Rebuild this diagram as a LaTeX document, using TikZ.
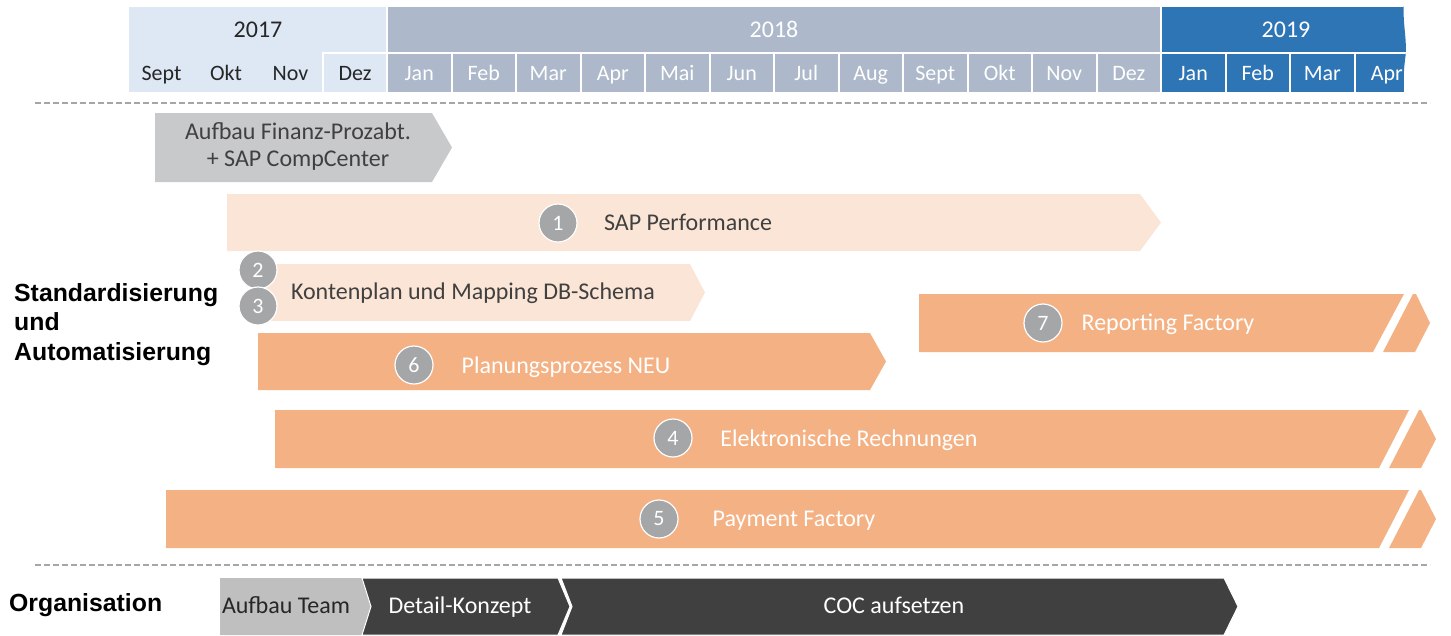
\documentclass[tikz,border=0pt]{standalone}
\usepackage{fontspec}
\setmainfont{Carlito}
\newfontfamily\labfont{Liberation Sans}
\definecolor{hdrA}{HTML}{DEE8F4}
\definecolor{hdrB}{HTML}{ADB9CA}
\definecolor{hdrC}{HTML}{2E75B6}
\definecolor{barGray}{HTML}{C8C9CB}
\definecolor{peach}{HTML}{FBE5D6}
\definecolor{orangeBar}{HTML}{F4B183}
\definecolor{circ}{HTML}{A5A6A8}
\definecolor{darkBar}{HTML}{404040}
\definecolor{teamGray}{HTML}{BFBFBF}
\definecolor{txtDark}{HTML}{262626}
\definecolor{dashGray}{HTML}{A6A6A6}
\begin{document}
\begin{tikzpicture}[x=1pt,y=-1pt,
  txt/.style={font=\fontsize{24}{28}\selectfont, inner sep=0pt, text height=15.5pt, text depth=0pt, anchor=center},
  mon/.style={font=\fontsize{22}{26}\selectfont, inner sep=0pt, text height=14pt, text depth=0pt, anchor=center},
  num/.style={circle, fill=circ, draw=white, line width=1.2pt, minimum size=38pt, inner sep=0pt, text=white, font=\fontsize{22}{26}\selectfont},
  lab/.style={font=\labfont\bfseries\fontsize{24.8}{29.5}\selectfont, inner sep=0pt, anchor=base west, text=black},
  cell/.style={draw=white, line width=2pt},
  sep/.style={draw=dashGray, line width=1.5pt, dash pattern=on 6pt off 3pt}
]
\useasboundingbox (0,0) rectangle (1451,635);

% ---------- header ----------
\fill[hdrA] (129,7) rectangle (387,92);
\path[cell, fill=hdrA] (323,53) rectangle (387,93);
\node[mon, font=\fontsize{24}{28}\selectfont, text=txtDark] (y17) at (258,30) {2017};
\node[mon, text=txtDark] (m0) at (161.5,73) {Sept};
\node[mon, text=txtDark] (m1) at (226,73) {Okt};
\node[mon, text=txtDark] (m2) at (290.5,73) {Nov};
\node[mon, text=txtDark] (m3) at (355,73) {Dez};

\path[cell, fill=hdrB] (387,6) rectangle (1161,53);
\node[mon, font=\fontsize{24}{28}\selectfont, text=white] (y18) at (774,30) {2018};
\foreach \k/\m in {0/Jan,1/Feb,2/Mar,3/Apr,4/Mai,5/Jun,6/Jul,7/Aug,8/Sept,9/Okt,10/Nov,11/Dez}{
  \path[cell, fill=hdrB] ({387+64.5*\k},53) rectangle ({387+64.5*(\k+1)},93);
  \node[mon, text=white] (n\k) at ({387+64.5*\k+32.25},73) {\m};
}
\begin{scope}
  \clip (1160,0) -- (1404,0) .. controls (1402,25) and (1408,40) .. (1405,60)
        .. controls (1403,75) and (1404,85) .. (1404,100) -- (1160,100) -- cycle;
  \path[cell, fill=hdrC] (1161,6) rectangle (1440,53);
  \foreach \k/\m in {0/Jan,1/Feb,2/Mar,3/Apr}{
    \path[cell, fill=hdrC] ({1161+64.5*\k},53) rectangle ({1161+64.5*(\k+1)},93);
    \node[mon, text=white] (p\k) at ({1161+64.5*\k+32.25},73) {\m};
  }
  \node[mon, font=\fontsize{24}{28}\selectfont, text=white] (y19) at (1286,30) {2019};
\end{scope}

% ---------- separators ----------
\coordinate (s1a) at (35,103);
\coordinate (s1b) at (1430,103);
\coordinate (s2a) at (35,565);
\coordinate (s2b) at (1430,565);
\draw[sep] (s1a) -- (s1b);
\draw[sep] (s2a) -- (s2b);

% ---------- left labels ----------
\node[lab] (l1) at (14,301) {Standardisierung};
\node[lab] (l2) at (14,330) {und};
\node[lab] (l3) at (14,360) {Automatisierung};
\node[lab] (l4) at (9,611) {Organisation};

% ---------- bars ----------
% Aufbau Finanz
\fill[barGray] (155,113) -- (432,113) -- (452,147.5) -- (432,182) -- (155,182) -- cycle;
\node[txt, text=darkBar] (fin1) at (298,132) {Aufbau Finanz-Prozabt.};
\node[txt, text=darkBar] (fin2) at (298,159) {+ SAP CompCenter};

% SAP Performance
\fill[peach] (227,194) -- (1140,194) -- (1161,222.5) -- (1140,251) -- (227,251) -- cycle;
\node[num] (c1) at (558,223) {1};
\node[txt, text=darkBar] (t1) at (688,223) {SAP Performance};

% Kontenplan
\fill[peach] (263,264) -- (690,264) -- (705,292.5) -- (690,321) -- (263,321) -- cycle;
\node[num] (c2) at (258,270) {2};
\node[num] (c3) at (258,306) {3};
\node[txt, text=darkBar] (t2) at (473,292) {Kontenplan und Mapping DB-Schema};

% Reporting Factory
\fill[orangeBar] (919,294) -- (1404,294) -- (1373,352) -- (919,352) -- cycle;
\fill[orangeBar] (1383,352) -- (1413,294) -- (1416,294) -- (1430,323) -- (1415,352) -- cycle;
\node[num] (c7) at (1043,323) {7};
\node[txt, text=white] (t7) at (1168,323) {Reporting Factory};

% Planungsprozess
\fill[orangeBar] (258,333) -- (870,333) -- (886,361.5) -- (870,390) -- (258,390) -- cycle;
\node[num] (c6) at (414,365) {6};
\node[txt, text=white] (t6) at (566,366) {Planungsprozess NEU};

% Elektronische Rechnungen
\fill[orangeBar] (275,410) -- (1409,410) -- (1379,468) -- (275,468) -- cycle;
\fill[orangeBar] (1389,468) -- (1419,410) -- (1421,410) -- (1436,439) -- (1421,468) -- cycle;
\node[num] (c4) at (673,438) {4};
\node[txt, text=white] (t4) at (849,439) {Elektronische Rechnungen};

% Payment Factory
\fill[orangeBar] (166,490) -- (1409,490) -- (1379,548) -- (166,548) -- cycle;
\fill[orangeBar] (1389,548) -- (1419,490) -- (1421,490) -- (1436,519) -- (1421,548) -- cycle;
\node[num] (c5) at (659,519) {5};
\node[txt, text=white] (t5) at (794,519) {Payment Factory};

% ---------- Organisation ----------
\fill[teamGray] (220,578) -- (362,578) -- (371,606.5) -- (362,635) -- (220,635) -- cycle;
\filldraw[fill=darkBar, draw=white, line width=1pt] (362,578) -- (558,578) -- (570,606.5) -- (558,635) -- (362,635) -- (371,606.5) -- cycle;
\filldraw[fill=darkBar, draw=white, line width=1pt] (561,578) -- (1224,578) -- (1238,606.5) -- (1224,635) -- (561,635) -- (572,606.5) -- cycle;
\node[txt, text=txtDark] (o1) at (286,606) {Aufbau Team};
\node[txt, text=white] (o2) at (460,606) {Detail-Konzept};
\node[txt, text=white] (o3) at (894,606) {COC aufsetzen};
\end{tikzpicture}
\end{document}
